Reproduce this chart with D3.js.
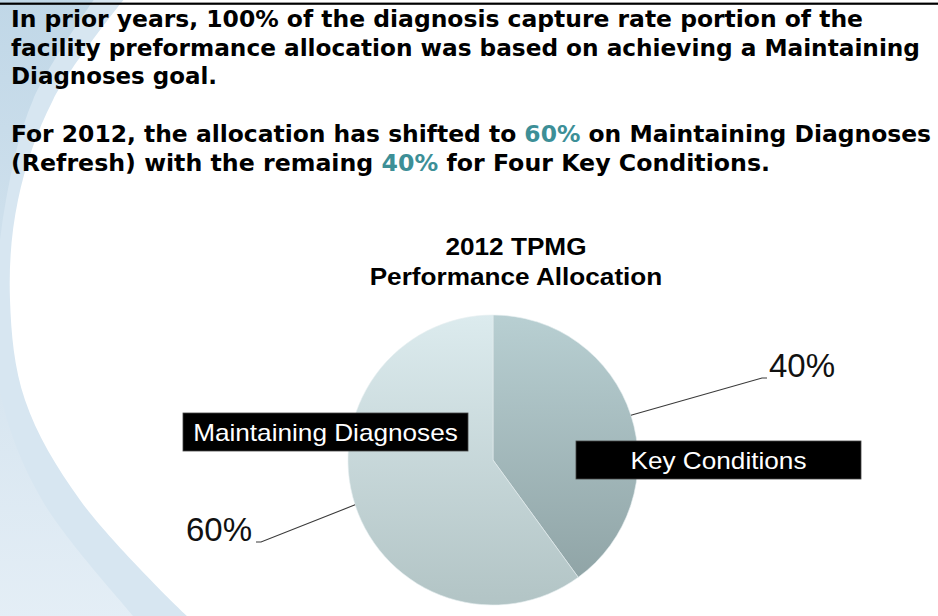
<!DOCTYPE html>
<html><head><meta charset="utf-8">
<script src="https://cdn.jsdelivr.net/npm/d3@7"></script>
<style>html,body{margin:0;padding:0;background:#fff;overflow:hidden}svg{display:block}</style>
</head><body>
<script>
// ---- data ----
const categories = ["Key Conditions", "Maintaining Diagnoses"];
const values = [40, 60];
const valueLabels = ["40%", "60%"];
const chartTitle = ["2012 TPMG", "Performance Allocation"];
const paragraph1 = [
  "In prior years, 100% of the diagnosis capture rate portion of the",
  "facility preformance allocation was based on achieving a Maintaining",
  "Diagnoses goal."
];
const paragraph2 = [
  [["For 2012, the allocation has shifted to ", false], ["60%", true], [" on Maintaining Diagnoses", false]],
  [["(Refresh) with the remaing ", false], ["40%", true], [" for Four Key Conditions.", false]]
];

// ---- layout ----
const W = 938, H = 616;
const svg = d3.select("body").append("svg").attr("width", W).attr("height", H);
const defs = svg.append("defs");

// background decoration (left blue swoosh)
const bgInner = defs.append("linearGradient").attr("id", "bgInner").attr("x1", 0).attr("y1", 0).attr("x2", 0).attr("y2", 1);
bgInner.append("stop").attr("offset", "0%").attr("stop-color", "#c0d7e7");
bgInner.append("stop").attr("offset", "55%").attr("stop-color", "#d5e4ef");
bgInner.append("stop").attr("offset", "100%").attr("stop-color", "#e4eef6");
const curve = d3.line().curve(d3.curveCatmullRom.alpha(0.5));
const outerEdge = [[125, -2], [53, 100], [18, 200], [10, 300], [25, 400], [80, 500], [187, 616], [192, 620]];
const innerEdge = [[95, -2], [33, 100], [6, 200], [-4, 300], [2, 400], [42, 500], [133, 616], [136, 620]];
function swoosh(edge) {
  return "M-2,-2" + "L" + curve(edge).slice(1) + "L-2,620Z";
}
svg.append("path").attr("d", swoosh(outerEdge)).attr("fill", "#d7e6f1");
svg.append("path").attr("d", swoosh(innerEdge)).attr("fill", "url(#bgInner)");

// top rule
svg.append("rect").attr("x", 0).attr("y", 2.6).attr("width", W).attr("height", 2.2).attr("fill", "#000");

// ---- intro text ----
const textFont = "'DejaVu Sans', Verdana, sans-serif";
const teal = "#3d8f97";
const fs = 22.5;
const tx = 11;
const p1y = [27, 55.5, 84];
const p2y = [142, 170.5];
const p1end = [863, 920, 217];
const p2end = [931, 770];
const intro = svg.append("g").attr("font-family", textFont).attr("font-weight", "bold")
  .attr("font-size", fs).attr("fill", "#000");
intro.selectAll("text.p1").data(paragraph1).join("text").attr("class", "p1")
  .attr("x", tx).attr("y", (d, i) => p1y[i]).text(d => d)
  .attr("textLength", (d, i) => p1end[i] - tx).attr("lengthAdjust", "spacingAndGlyphs");
intro.selectAll("text.p2").data(paragraph2).join("text").attr("class", "p2")
  .attr("x", tx).attr("y", (d, i) => p2y[i])
  .attr("textLength", (d, i) => p2end[i] - tx).attr("lengthAdjust", "spacingAndGlyphs")
  .selectAll("tspan").data(d => d).join("tspan")
  .attr("fill", d => d[1] ? teal : "#000").text(d => d[0]);

// ---- chart ----
const cx = 493, cy = 460, r = 145;
const stretch = 1.09;
const arialFont = "'Liberation Sans', Arial, sans-serif";

function stretchText(sel) {
  sel.each(function () {
    const n = this.getComputedTextLength();
    d3.select(this).attr("textLength", n * stretch).attr("lengthAdjust", "spacingAndGlyphs");
  });
}

// title
svg.append("g").selectAll("text").data(chartTitle).join("text")
  .attr("x", 516).attr("y", (d, i) => 255 + i * 30)
  .attr("text-anchor", "middle").attr("font-family", arialFont).attr("font-weight", "bold")
  .attr("font-size", 24).attr("fill", "#000").text(d => d).call(stretchText);

// slice gradients (coordinates relative to pie centre)
const sliceColors = [["#b8cfd2", "#8ca0a2"], ["#dcebee", "#b2c4c5"]];
sliceColors.forEach((c, i) => {
  const g = defs.append("linearGradient").attr("id", "slice" + i)
    .attr("gradientUnits", "userSpaceOnUse")
    .attr("x1", 0).attr("y1", -r).attr("x2", 0).attr("y2", r);
  g.append("stop").attr("offset", "0%").attr("stop-color", c[0]);
  g.append("stop").attr("offset", "100%").attr("stop-color", c[1]);
});

const pie = d3.pie().sort(null).value(d => d).startAngle(0).endAngle(2 * Math.PI);
const arcs = pie(values);
const arc = d3.arc().innerRadius(0).outerRadius(r);
const edgeArc = d3.arc().innerRadius(r).outerRadius(r);

const chart = svg.append("g").attr("transform", `translate(${cx},${cy})`);
chart.selectAll("path.slice").data(arcs).join("path").attr("class", "slice")
  .attr("d", arc).attr("fill", (d, i) => `url(#slice${i})`)
  .attr("stroke", "#e6eff0").attr("stroke-width", 0.6);

// leader lines + value labels
const labelAnchors = [{x: 767, y: 378, dir: 1}, {x: 256, y: 542, dir: -1}];
const leaders = svg.append("g");
arcs.forEach((a, i) => {
  const p = edgeArc.centroid(a);
  const la = labelAnchors[i];
  const pts = [[cx + p[0], cy + p[1]], [la.x - 5 * la.dir, la.y], [la.x, la.y]];
  leaders.append("path").attr("d", d3.line()(pts)).attr("fill", "none")
    .attr("stroke", "#3a3a3a").attr("stroke-width", 1.1);
  leaders.append("text")
    .attr("x", la.x + (la.dir > 0 ? 2 : -4)).attr("y", la.y - 1)
    .attr("text-anchor", la.dir > 0 ? "start" : "end")
    .attr("font-family", arialFont).attr("font-size", 33).attr("fill", "#111")
    .text(valueLabels[i]);
});

// category label boxes
const boxes = [{x: 576, y: 441}, {x: 183, y: 413}];
const boxW = 285, boxH = 38;
const lab = svg.append("g");
categories.forEach((c, i) => {
  const b = boxes[i];
  lab.append("rect").attr("x", b.x).attr("y", b.y).attr("width", boxW).attr("height", boxH)
    .attr("fill", "#000").attr("stroke", "#444").attr("stroke-width", 0.8);
  lab.append("text").attr("x", b.x + boxW / 2).attr("y", b.y + boxH / 2 + 9)
    .attr("text-anchor", "middle").attr("font-family", arialFont).attr("font-size", 24)
    .attr("fill", "#fff").text(c).call(stretchText);
});
</script>
</body></html>
